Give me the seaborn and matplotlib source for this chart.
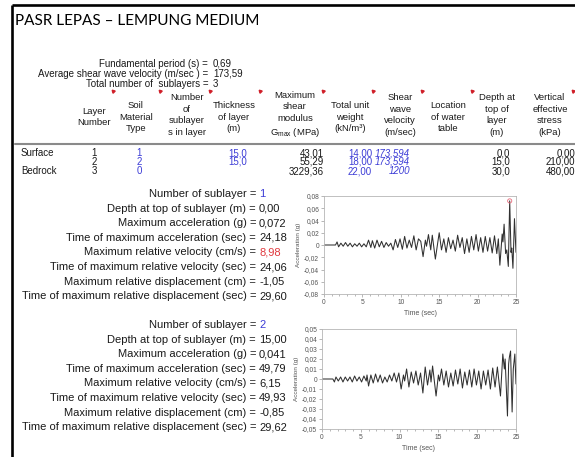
import matplotlib
matplotlib.use("Agg")
import matplotlib.pyplot as plt
import seaborn as sns
import pandas as pd
from matplotlib.ticker import MultipleLocator, FuncFormatter

W, H = 575, 457

title = "PASR LEPAS – LEMPUNG MEDIUM"

# ringkasan profil
fundamental_period = 0.69
avg_shear_velocity = 173.59
total_sublayers = 3

# judul kolom tabel
header_cols = [
    "Layer\nNumber",
    "Soil\nMaterial\nType",
    "Number\nof\nsublayer\ns in layer",
    "Thickness\nof layer\n(m)",
    "Maximum\nshear\nmodulus\nG$_\\mathregular{max}$ (MPa)",
    "Total unit\nweight\n(kN/m³)",
    "Shear\nwave\nvelocity\n(m/sec)",
    "Location\nof water\ntable",
    "Depth at\ntop of\nlayer\n(m)",
    "Vertical\neffective\nstress\n(kPa)",
]

# isi tabel lapisan
layer_names = ["Surface", "", "Bedrock"]
layer_number = [1, 2, 3]
soil_type = [1, 2, 0]
thickness = [15.0, 15.0, None]
gmax = [43.01, 55.29, 3229.36]
unit_weight = [14.00, 18.00, 22.00]
shear_velocity = [173.594, 173.594, 1200]
depth_top = [0.0, 15.0, 30.0]
vert_stress = [0.00, 210.00, 480.00]

# hasil per sublayer
result_labels = [
    "Number of sublayer",
    "Depth at top of sublayer (m)",
    "Maximum acceleration (g)",
    "Time of maximum acceleration (sec)",
    "Maximum relative velocity (cm/s)",
    "Time of maximum relative velocity (sec)",
    "Maximum relative displacement (cm)",
    "Time of maximum relative displacement (sec)",
]
result_decimals = [0, 2, 3, 2, 2, 2, 2, 2]
sub1_results = [1, 0.00, 0.072, 24.18, 8.98, 24.06, -1.05, 29.60]
sub2_results = [2, 15.00, 0.041, 49.79, 6.15, 49.93, -0.85, 29.62]

# riwayat waktu percepatan sublayer 1
time1 = [0.0, 1.5, 1.7, 1.9, 2.2, 2.5, 2.8, 3.1, 3.4, 3.7, 4.0, 4.3, 4.6, 4.9,
         5.2, 5.5, 5.8, 6.1, 6.3, 6.6, 6.9, 7.2, 7.5, 7.8, 8.1, 8.4, 8.7, 9.0,
         9.3, 9.6, 9.9, 10.2, 10.5, 10.8, 11.1, 11.4, 11.7, 12.0, 12.3, 12.6,
         12.9, 13.2, 13.35, 13.6, 13.9, 14.1, 14.5, 14.8, 15.0, 15.3, 15.6,
         15.9, 16.2, 16.5, 16.8, 17.1, 17.4, 17.7, 18.0, 18.3, 18.6, 18.9,
         19.2, 19.5, 19.8, 20.1, 20.4, 20.7, 21.0, 21.3, 21.6, 21.9, 22.2,
         22.5, 22.7, 22.9, 23.2, 23.3, 23.45, 23.65, 23.8, 24.0, 24.18, 24.35,
         24.45, 24.6, 24.8, 25.0]
accel1 = [0.0, 0.0, 0.005, -0.003, 0.003, -0.002, 0.004, -0.002, 0.003, -0.003,
          0.002, -0.002, 0.003, -0.003, 0.002, -0.003, 0.008, -0.004, 0.007,
          -0.005, 0.008, -0.003, 0.006, -0.004, 0.004, -0.002, 0.003, -0.008,
          0.009, -0.004, 0.010, -0.007, 0.014, -0.005, 0.008, -0.004, 0.015,
          -0.008, 0.010, 0.006, -0.019, 0.008, -0.002, 0.017, -0.008, 0.016,
          -0.023, 0.003, 0.020, -0.008, 0.010, -0.012, 0.012, -0.006, 0.008,
          -0.010, 0.016, -0.004, 0.012, -0.014, 0.010, -0.012, 0.014, -0.008,
          0.017, -0.010, 0.012, -0.012, 0.014, -0.010, 0.012, -0.013, 0.015,
          -0.014, 0.010, -0.033, 0.018, 0.005, 0.034, -0.014, -0.008, -0.035,
          0.072, -0.012, -0.005, -0.038, 0.043, -0.012]

# riwayat waktu percepatan sublayer 2
time2 = [0.0, 1.4, 1.6, 1.8, 2.1, 2.4, 2.7, 3.0, 3.3, 3.6, 3.9, 4.2, 4.5, 4.8,
         5.1, 5.4, 5.7, 5.8, 6.0, 6.3, 6.6, 6.9, 7.2, 7.5, 7.8, 8.1, 8.4, 8.7,
         9.0, 9.3, 9.6, 9.9, 10.2, 10.5, 10.65, 10.9, 11.2, 11.5, 11.8, 12.1,
         12.4, 12.7, 13.0, 13.3, 13.6, 13.9, 14.05, 14.25, 14.7, 15.0, 15.15,
         15.4, 15.7, 16.0, 16.3, 16.6, 16.9, 17.2, 17.5, 17.8, 18.1, 18.4,
         18.7, 19.0, 19.3, 19.6, 19.9, 20.2, 20.5, 20.8, 21.1, 21.4, 21.7,
         22.0, 22.3, 22.6, 23.0, 23.3, 23.5, 23.6, 23.9, 24.05, 24.15, 24.3,
         24.5, 24.65, 24.85, 25.0]
accel2 = [0.0, 0.0, -0.003, 0.002, -0.002, 0.002, -0.003, 0.002, -0.002, 0.002,
          -0.003, 0.003, -0.002, 0.002, -0.003, 0.003, -0.002, 0.004, -0.007,
          0.004, -0.004, 0.005, -0.003, 0.004, -0.004, 0.002, -0.003, 0.004,
          -0.002, 0.006, -0.003, 0.006, -0.010, 0.004, -0.002, 0.010, -0.008,
          0.007, -0.004, 0.008, -0.006, 0.006, -0.014, 0.012, -0.006, 0.009,
          -0.003, 0.013, -0.017, 0.004, -0.002, 0.010, -0.006, 0.008, -0.008,
          0.006, -0.007, 0.009, -0.005, 0.010, -0.009, 0.007, -0.006, 0.009,
          -0.008, 0.010, -0.006, 0.008, -0.010, 0.008, -0.006, 0.009, -0.010,
          0.011, -0.008, 0.012, -0.017, 0.025, 0.010, 0.020, -0.037, 0.015,
          0.022, 0.028, -0.033, 0.010, 0.025, -0.005]

BLUE = "#3c3cd6"
RED = "#e0393e"
TXT = "#1a1a1a"


def fmt(v, d):
    return f"{v:.{d}f}".replace(".", ",")


sns.set_style("white")
plt.rcParams["font.family"] = ["Liberation Sans", "DejaVu Sans"]

fig = plt.figure(figsize=(W / 100, H / 100), dpi=100)
bg = fig.add_axes([0, 0, 1, 1])
bg.set_xlim(0, W)
bg.set_ylim(H, 0)
bg.axis("off")

# bingkai
bg.plot([12, 12], [5, H], color="black", lw=1.9, solid_capstyle="butt")
bg.plot([12, W], [5, 5], color="black", lw=1.9, solid_capstyle="butt")

bg.text(15, 21, title, fontsize=11, family=["Lato", "DejaVu Sans"],
        ha="left", va="center", color="black")

# ringkasan
summary = [("Fundamental period (s) = ", fmt(fundamental_period, 2), 64),
           ("Average shear wave velocity (m/sec ) = ", fmt(avg_shear_velocity, 2), 74),
           ("Total number of  sublayers = ", str(total_sublayers), 84)]
for lab, val, y in summary:
    bg.text(211, y, lab, fontsize=7, ha="right", va="center", color=TXT)
    bg.text(213, y, val, fontsize=7, ha="left", va="center", color=TXT)

# judul kolom
col_x = [94, 136, 187, 234, 295, 350, 400, 448, 497, 550]
for x, h in zip(col_x, header_cols):
    yc = 115 if h.count("\n") == 3 else 117
    bg.text(x, yc, h, fontsize=6.8, ha="center", va="center",
            multialignment="center", linespacing=1.38, color=TXT)
for x in [113, 160, 210, 260, 323, 373, 422, 472, 573]:
    bg.plot(x, 91, marker=(3, 0, 45), ms=2.6, color="#d0202a", lw=0)
bg.plot([15, W], [144, 144], color="#8a8a8a", lw=1.5)

# baris tabel
row_y = [153, 162, 171]
for i, y in enumerate(row_y):
    kw = dict(fontsize=7, va="center")
    bg.text(21, y, layer_names[i], ha="left", color=TXT, **kw)
    bg.text(94, y, str(layer_number[i]), ha="center", color=TXT, **kw)
    bg.text(139, y, str(soil_type[i]), ha="center", color=BLUE, **kw)
    if thickness[i] is not None:
        bg.text(247, y, fmt(thickness[i], 1), ha="right", color=BLUE, **kw)
    bg.text(324, y, fmt(gmax[i], 2), ha="right", color=TXT, **kw)
    bg.text(372, y, fmt(unit_weight[i], 2), ha="right", color=BLUE, **kw)
    vs = shear_velocity[i]
    vs_txt = str(int(vs)) if float(vs).is_integer() else fmt(vs, 3)
    bg.text(410, y, vs_txt, ha="right", color=BLUE, style="italic", **kw)
    bg.text(510, y, fmt(depth_top[i], 1), ha="right", color=TXT, **kw)
    bg.text(575, y, fmt(vert_stress[i], 2), ha="right", color=TXT, **kw)


def result_block(values, y0, red_idx=None):
    for k, (lab, val, d) in enumerate(zip(result_labels, values, result_decimals)):
        y = y0 + 14.6 * k
        col = TXT
        if k == 0:
            col = BLUE
        elif k == red_idx:
            col = RED
        bg.text(256, y, lab + " =", fontsize=8, ha="right", va="center", color=TXT)
        bg.text(259, y, fmt(val, d), fontsize=8, ha="left", va="center", color=col)


result_block(sub1_results, 194, red_idx=4)
result_block(sub2_results, 325)


def add_chart(box, t, a, lim, step, peak=None):
    l, top, r, bot = box
    ax = fig.add_axes([l / W, 1 - bot / H, (r - l) / W, (bot - top) / H])
    df = pd.DataFrame({"Time (sec)": t, "Acceleration (g)": a})
    sns.lineplot(data=df, x="Time (sec)", y="Acceleration (g)", ax=ax,
                 color="#303030", lw=0.75)
    if peak is not None:
        ax.scatter([peak[0]], [peak[1]], s=9, facecolors="none",
                   edgecolors="#e86a7a", linewidths=0.6, zorder=5)
    ax.set_xlim(0, 25)
    ax.set_ylim(-lim, lim)
    ax.xaxis.set_major_locator(MultipleLocator(5))
    ax.xaxis.set_minor_locator(MultipleLocator(1))
    ax.yaxis.set_major_locator(MultipleLocator(step))
    ax.yaxis.set_major_formatter(FuncFormatter(
        lambda v, p: "0" if abs(v) < 1e-9 else fmt(v, 2)))
    for s in ax.spines.values():
        s.set_color("#b5b5b5")
        s.set_linewidth(0.6)
    ax.tick_params(axis="both", which="major", labelsize=4.8, colors="#9a9a9a",
                   labelcolor="#555555", length=2, width=0.5, pad=1.5,
                   bottom=True, left=True)
    ax.tick_params(axis="x", which="minor", length=1.5, width=0.5,
                   colors="#9a9a9a", bottom=True)
    ax.set_xlabel("Time (sec)", fontsize=5, color="#555555", labelpad=3)
    ax.set_ylabel("Acceleration (g)", fontsize=4.6, color="#555555", labelpad=2)
    return ax


add_chart((324, 196, 516, 294), time1, accel1, 0.08, 0.02,
          peak=(sub1_results[3], sub1_results[2]))
add_chart((322, 329, 516, 429), time2, accel2, 0.05, 0.01)

fig.savefig("out.png", dpi=100, facecolor="white")
